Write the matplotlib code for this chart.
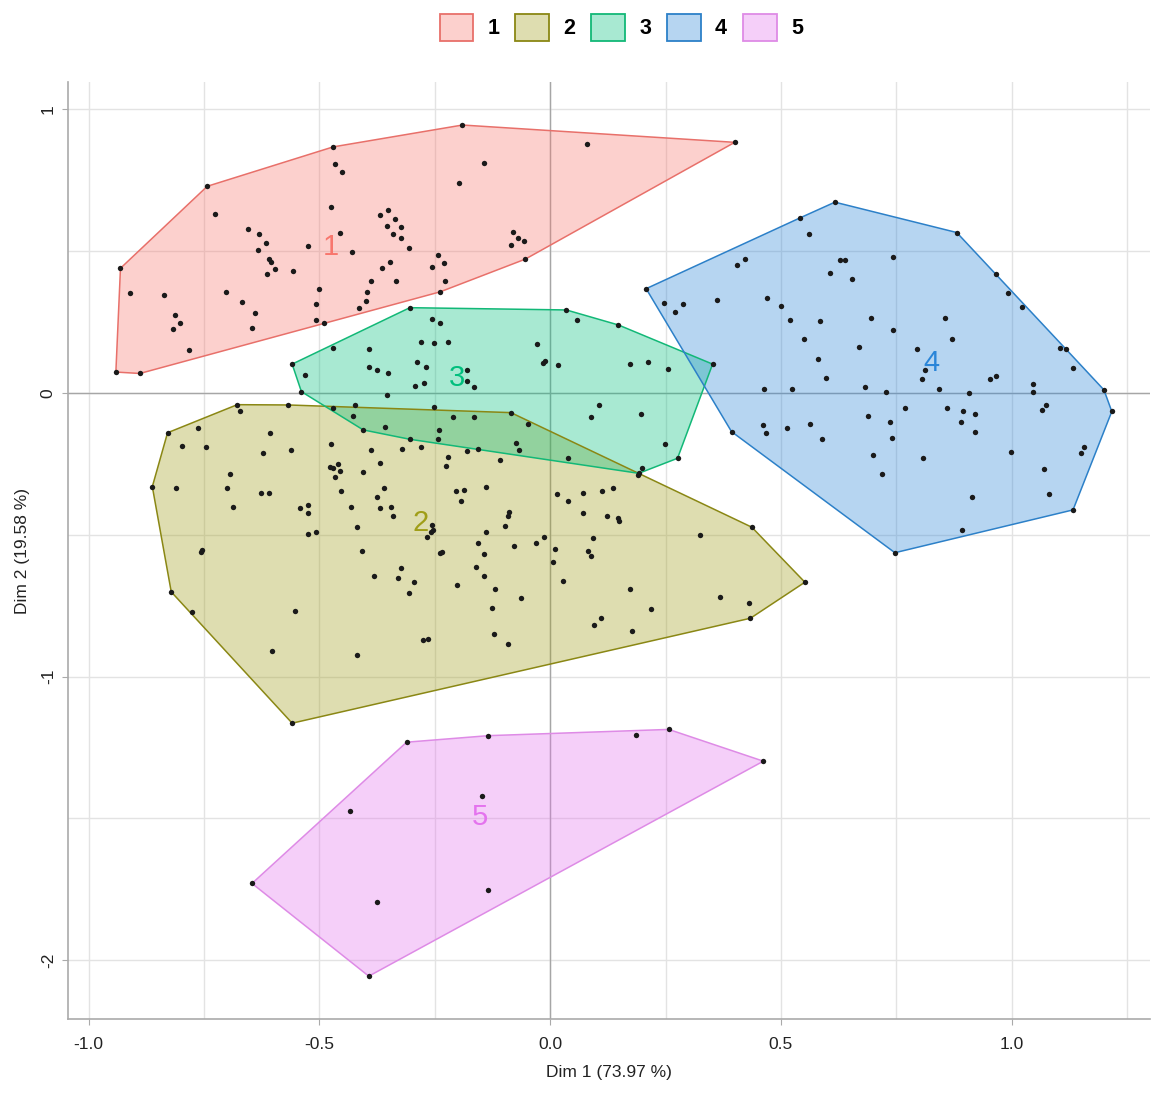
import matplotlib
matplotlib.use("Agg")
import matplotlib.pyplot as plt
import matplotlib.patches as mpatches
from matplotlib.colors import to_rgba

plt.rcParams["font.family"] = ["Liberation Sans", "DejaVu Sans"]

# Cluster members (Dim 1, Dim 2)
c1_x = [-0.470, -0.466, -0.450, -0.743, -0.726, -0.474, -0.369, -0.351, -0.336, -0.354,
        -0.323, -0.341, -0.323, -0.306, -0.456, -0.429, -0.654, -0.630, -0.616, -0.633,
        -0.525, -0.610, -0.605, -0.596, -0.613, -0.558, -0.931, -0.910, -0.837, -0.813,
        -0.803, -0.818, -0.783, -0.941, -0.889, -0.702, -0.667, -0.640, -0.647, -0.500,
        -0.507, -0.507, -0.490, -0.364, -0.347, -0.388, -0.333, -0.396, -0.398, -0.415,
        -0.257, -0.190, 0.079, 0.400, -0.143, -0.197, -0.081, -0.069, -0.057, -0.085,
        -0.054, -0.244, -0.231, -0.228, -0.238]
c1_y = [0.868, 0.806, 0.778, 0.729, 0.633, 0.657, 0.627, 0.645, 0.612, 0.590,
        0.584, 0.562, 0.545, 0.512, 0.566, 0.496, 0.579, 0.562, 0.529, 0.506,
        0.518, 0.472, 0.463, 0.439, 0.418, 0.430, 0.440, 0.351, 0.347, 0.275,
        0.247, 0.225, 0.153, 0.074, 0.069, 0.357, 0.320, 0.281, 0.229, 0.368,
        0.313, 0.257, 0.246, 0.440, 0.463, 0.396, 0.396, 0.357, 0.324, 0.301,
        0.445, 0.945, 0.877, 0.884, 0.811, 0.739, 0.568, 0.547, 0.535, 0.523,
        0.472, 0.485, 0.457, 0.396, 0.357]

c2_x = [-0.678, -0.568, -0.671, -0.763, -0.829, -0.797, -0.746, -0.607, -0.623, -0.562,
        -0.474, -0.388, -0.320, -0.279, -0.368, -0.477, -0.459, -0.470, -0.456, -0.466,
        -0.406, -0.694, -0.862, -0.811, -0.701, -0.627, -0.610, -0.453, -0.361, -0.375,
        -0.688, -0.542, -0.525, -0.525, -0.432, -0.368, -0.344, -0.341, -0.419, -0.525,
        -0.508, -0.266, -0.754, -0.756, -0.408, -0.323, -0.381, -0.330, -0.296, -0.306,
        -0.821, -0.776, -0.552, -0.276, -0.264, -0.603, -0.419, -0.559,
        -0.085, -0.047, -0.181, -0.221, -0.225, -0.108, -0.140, -0.204, -0.187, -0.194,
        0.014, 0.038, 0.072, 0.113, 0.137, 0.072, 0.124, 0.147, 0.150, -0.089,
        -0.092, -0.098, -0.257, -0.254, -0.258, -0.140, -0.013, -0.030, 0.093, -0.078,
        -0.156, -0.235, -0.239, -0.143, 0.011, 0.082, 0.089, 0.007, 0.325, 0.437,
        -0.160, -0.143, -0.201, -0.119, 0.028, 0.174, -0.064, -0.126, 0.218, 0.368,
        0.430, 0.434, 0.110, 0.095, 0.178, -0.122, -0.092, 0.552, 0.190]
c2_y = [-0.041, -0.042, -0.065, -0.124, -0.140, -0.186, -0.191, -0.141, -0.213, -0.202,
        -0.180, -0.202, -0.197, -0.191, -0.247, -0.260, -0.250, -0.265, -0.275, -0.297,
        -0.280, -0.286, -0.330, -0.335, -0.335, -0.351, -0.351, -0.345, -0.335, -0.368,
        -0.401, -0.406, -0.395, -0.424, -0.401, -0.406, -0.401, -0.435, -0.473, -0.496,
        -0.491, -0.506, -0.553, -0.559, -0.557, -0.618, -0.645, -0.651, -0.667, -0.706,
        -0.701, -0.772, -0.767, -0.872, -0.866, -0.910, -0.922, -1.164,
        -0.069, -0.110, -0.203, -0.224, -0.257, -0.236, -0.330, -0.345, -0.341, -0.380,
        -0.357, -0.380, -0.351, -0.345, -0.335, -0.424, -0.435, -0.441, -0.451, -0.418,
        -0.435, -0.469, -0.465, -0.483, -0.489, -0.491, -0.506, -0.530, -0.512, -0.539,
        -0.530, -0.559, -0.565, -0.567, -0.551, -0.556, -0.573, -0.596, -0.500, -0.473,
        -0.612, -0.645, -0.678, -0.690, -0.662, -0.690, -0.724, -0.757, -0.761, -0.718,
        -0.739, -0.794, -0.794, -0.818, -0.839, -0.849, -0.884, -0.667, -0.290]

c3_x = [-0.304, -0.470, -0.559, -0.531, -0.539, -0.392, -0.279, -0.289, -0.269, -0.392,
        -0.375, -0.351, -0.293, -0.273, -0.354, -0.257, -0.238, 0.035, 0.059, 0.148,
        -0.252, -0.221, -0.028, -0.011, -0.015, 0.016, 0.174, 0.212, 0.256, 0.352,
        -0.181, -0.181, -0.166, -0.423, -0.470, -0.428, -0.405, -0.358, -0.304,
        0.106, 0.089, 0.197, 0.249, 0.276, 0.198, 0.192, -0.252, -0.211, -0.166,
        -0.241, -0.244, -0.074, -0.068, 0.038, -0.156]
c3_y = [0.301, 0.159, 0.102, 0.065, 0.005, 0.154, 0.180, 0.109, 0.093, 0.093,
        0.081, 0.069, 0.026, 0.036, -0.007, 0.260, 0.246, 0.293, 0.257, 0.240,
        0.175, 0.180, 0.174, 0.113, 0.107, 0.099, 0.102, 0.108, 0.086, 0.102,
        0.081, 0.042, 0.020, -0.041, -0.054, -0.080, -0.130, -0.119, -0.163,
        -0.041, -0.086, -0.074, -0.180, -0.230, -0.263, -0.283, -0.050, -0.086, -0.086,
        -0.130, -0.163, -0.177, -0.201, -0.230, -0.197]

c4_x = [0.208, 0.246, 0.270, 0.287, 0.362, 0.405, 0.423, 0.470, 0.501, 0.519,
        0.463, 0.393, 0.461, 0.468, 0.513, 0.542, 0.617, 0.881, 0.560, 0.628,
        0.638, 0.607, 0.654, 0.743, 0.965, 0.993, 1.023, 1.105, 1.118, 1.132,
        1.200, 0.584, 0.695, 0.743, 0.855, 0.870, 0.549, 0.669, 0.795, 0.580,
        0.812, 0.805, 0.597, 0.954, 0.965, 1.046, 0.683, 0.843, 0.523, 0.727,
        0.907, 1.046, 1.217, 0.768, 0.860, 0.894, 0.920, 0.890, 0.920, 0.689,
        0.736, 0.563, 0.590, 0.740, 1.065, 1.074, 0.699, 0.808, 0.999, 1.150,
        1.156, 1.071, 0.719, 0.914, 1.081, 1.133, 0.893, 0.747]
c4_y = [0.368, 0.318, 0.286, 0.313, 0.329, 0.451, 0.473, 0.335, 0.307, 0.257,
        0.014, -0.136, -0.113, -0.140, -0.124, 0.618, 0.673, 0.566, 0.562, 0.468,
        0.468, 0.424, 0.402, 0.479, 0.418, 0.351, 0.302, 0.159, 0.154, 0.087,
        0.011, 0.253, 0.263, 0.224, 0.263, 0.191, 0.191, 0.163, 0.154, 0.120,
        0.081, 0.048, 0.054, 0.048, 0.060, 0.032, 0.021, 0.014, 0.014, 0.002,
        -0.001, 0.002, -0.065, -0.053, -0.053, -0.065, -0.074, -0.102, -0.136, -0.081,
        -0.102, -0.108, -0.163, -0.157, -0.060, -0.042, -0.219, -0.230, -0.207, -0.210,
        -0.191, -0.268, -0.284, -0.368, -0.357, -0.412, -0.484, -0.563]

c5_x = [-0.311, -0.134, 0.186, 0.257, 0.462, -0.148, -0.434, -0.646, -0.376, -0.134, -0.393]
c5_y = [-1.231, -1.208, -1.204, -1.186, -1.298, -1.419, -1.475, -1.729, -1.795, -1.752, -2.056]

# cluster centres as labelled in the chart
center_x = [-0.475, -0.280, -0.202, 0.826, -0.153]
center_y = [0.516, -0.459, 0.052, 0.106, -1.496]

cluster_names = ["1", "2", "3", "4", "5"]
cluster_x = [c1_x, c2_x, c3_x, c4_x, c5_x]
cluster_y = [c1_y, c2_y, c3_y, c4_y, c5_y]
colors = ["#F8766D", "#A09E18", "#00BF7D", "#2A85D8", "#E473EE"]
edge_colors = ["#E8706A", "#8A8714", "#12B877", "#2C80C8", "#DE8BE6"]

x_ticks = [-1.0, -0.5, 0.0, 0.5, 1.0]
y_ticks = [-2, -1, 0, 1]


def convex_hull(pts):
    pts = sorted(set(pts))
    def cross(o, a, b):
        return (a[0] - o[0]) * (b[1] - o[1]) - (a[1] - o[1]) * (b[0] - o[0])
    lower, upper = [], []
    for p in pts:
        while len(lower) >= 2 and cross(lower[-2], lower[-1], p) <= 0:
            lower.pop()
        lower.append(p)
    for p in reversed(pts):
        while len(upper) >= 2 and cross(upper[-2], upper[-1], p) <= 0:
            upper.pop()
        upper.append(p)
    return lower[:-1] + upper[:-1]


fig = plt.figure(figsize=(11.7, 10.96), dpi=100)
ax = fig.add_axes([0.0584, 0.070, 0.9246, 0.855])

for xs, ys, col, ecol in zip(cluster_x, cluster_y, colors, edge_colors):
    hull = convex_hull(list(zip(xs, ys)))
    ax.add_patch(mpatches.Polygon(hull, closed=True, facecolor=col, alpha=0.34,
                                  edgecolor="none", zorder=2))
    ax.add_patch(mpatches.Polygon(hull, closed=True, facecolor="none",
                                  edgecolor=ecol, lw=1.1, zorder=2.5))

for xs, ys in zip(cluster_x, cluster_y):
    ax.scatter(xs, ys, s=15, color="#1a1a1a", zorder=3, linewidths=0)

for name, cx, cy, col in zip(cluster_names, center_x, center_y, colors):
    ax.text(cx, cy, name, color=col, fontsize=21, ha="center", va="center", zorder=4)

ax.axhline(0, color="#a6a6a6", lw=1.0, zorder=1)
ax.axvline(0, color="#a6a6a6", lw=1.0, zorder=1)

ax.set_xlim(-1.044, 1.30)
ax.set_ylim(-2.208, 1.096)
ax.set_xticks(x_ticks)
ax.set_xticklabels(["-1.0", "-0.5", "0.0", "0.5", "1.0"])
ax.set_yticks(y_ticks)
ax.set_yticklabels([str(v) for v in y_ticks], rotation=90, va="center")
ax.set_xticks([-0.75, -0.25, 0.25, 0.75, 1.25], minor=True)
ax.set_yticks([-1.5, -0.5, 0.5], minor=True)
ax.grid(True, which="both", color="#e3e3e3", lw=1.0, zorder=0)
ax.set_axisbelow(True)
ax.tick_params(which="major", length=4, color="#aaaaaa", labelsize=12.5, labelcolor="#222222")
ax.tick_params(axis="x", which="major", pad=9)
ax.tick_params(axis="y", which="major", pad=5)
ax.tick_params(which="minor", length=0)

for s in ["top", "right"]:
    ax.spines[s].set_visible(False)
for s in ["left", "bottom"]:
    ax.spines[s].set_color("#aaaaaa")
    ax.spines[s].set_linewidth(1.2)

ax.set_xlabel("Dim 1 (73.97 %)", fontsize=12.5, color="#222222", labelpad=9)
ax.set_ylabel("Dim 2 (19.58 %)", fontsize=12.5, color="#222222", labelpad=8)

handles = [mpatches.Patch(facecolor=to_rgba(c, 0.34), edgecolor=e, lw=1.3)
           for c, e in zip(colors, edge_colors)]
fig.legend(handles, cluster_names, loc="center", bbox_to_anchor=(0.531, 0.975), ncol=5,
           frameon=False, prop={"size": 15.5, "weight": "bold"}, handlelength=1.57,
           handleheight=1.59, handletextpad=0.65, columnspacing=0.75)

fig.savefig("out.png", dpi=100, facecolor="white")
